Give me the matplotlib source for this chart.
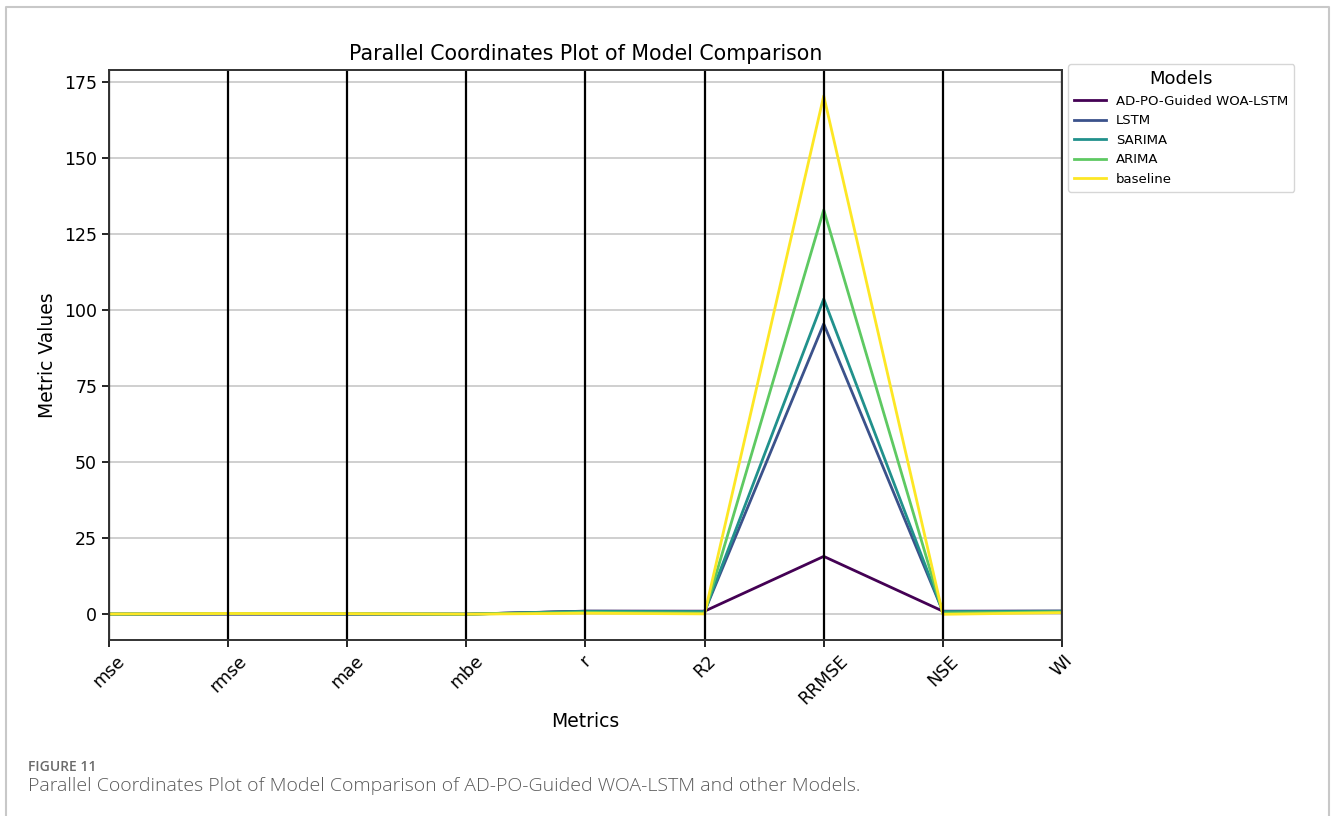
import matplotlib
matplotlib.use("Agg")
import matplotlib.pyplot as plt
from matplotlib.lines import Line2D
import pandas as pd
from pandas.plotting import parallel_coordinates

# metric values per model
metrics = ["mse", "rmse", "mae", "mbe", "r", "R2", "RRMSE", "NSE", "WI"]
models = ["AD-PO-Guided WOA-LSTM", "LSTM", "SARIMA", "ARIMA", "baseline"]
ad_po_woa_lstm = [0.00, 0.02, 0.01, 0.00, 0.99, 0.98, 19.0, 0.98, 0.99]
lstm = [0.01, 0.10, 0.07, -0.01, 0.95, 0.90, 95.5, 0.90, 0.97]
sarima = [0.02, 0.13, 0.09, 0.00, 0.93, 0.87, 103.7, 0.87, 0.96]
arima = [0.03, 0.17, 0.12, 0.01, 0.60, 0.36, 133.0, 0.36, 0.75]
baseline = [0.05, 0.22, 0.17, 0.00, 0.30, 0.09, 170.5, -0.05, 0.50]

df = pd.DataFrame([ad_po_woa_lstm, lstm, sarima, arima, baseline], columns=metrics)
df["Model"] = models

fig = plt.figure(figsize=(13.35, 8.16), dpi=100)
ax = fig.add_axes([0.0816, 0.2157, 0.7139, 0.6985])

parallel_coordinates(df, "Model", colormap="viridis", ax=ax, linewidth=2)
for line in ax.get_lines():
    if line.get_color() in ("black", "k"):
        line.set_linewidth(1.6)
ax.grid(axis="y", color="#cccccc", linewidth=1.3)
ax.grid(axis="x", visible=False)
ax.set_ylim(-8.5, 179)
ax.set_yticks([0, 25, 50, 75, 100, 125, 150, 175])
ax.tick_params(labelsize=12.5, width=1.2, length=5)
plt.setp(ax.get_xticklabels(), rotation=45)
for s in ax.spines.values():
    s.set_linewidth(1.4)
    s.set_color("#333333")

ax.set_title("Parallel Coordinates Plot of Model Comparison", fontsize=14.8, pad=7)
ax.set_xlabel("Metrics", fontsize=13.5, labelpad=3)
ax.set_ylabel("Metric Values", fontsize=13.5, labelpad=5)

leg = ax.legend(title="Models", loc="upper left", bbox_to_anchor=(1.0063, 1.0105),
                borderaxespad=0, fontsize=9.5, title_fontsize=13, handlelength=2.4,
                borderpad=0.45, labelspacing=0.5)

# page frame and caption
fig.add_artist(Line2D([6 / 1335, 6 / 1335, 1329 / 1335, 1329 / 1335],
                      [0, 1 - 7 / 816, 1 - 7 / 816, 0],
                      transform=fig.transFigure, color="#c8c8c8", linewidth=1.5))
fig.text(28 / 1335, 1 - 771 / 816, "FIGURE 11", fontsize=10, color="#6b6b6b",
         family="Open Sans", weight="semibold", va="baseline")
fig.text(28 / 1335, 1 - 791 / 816,
         "Parallel Coordinates Plot of Model Comparison of AD-PO-Guided WOA-LSTM and other Models.",
         fontsize=14, color="#5a5a5a", family="Open Sans", weight="light", va="baseline")

fig.savefig("out.png", dpi=100)
